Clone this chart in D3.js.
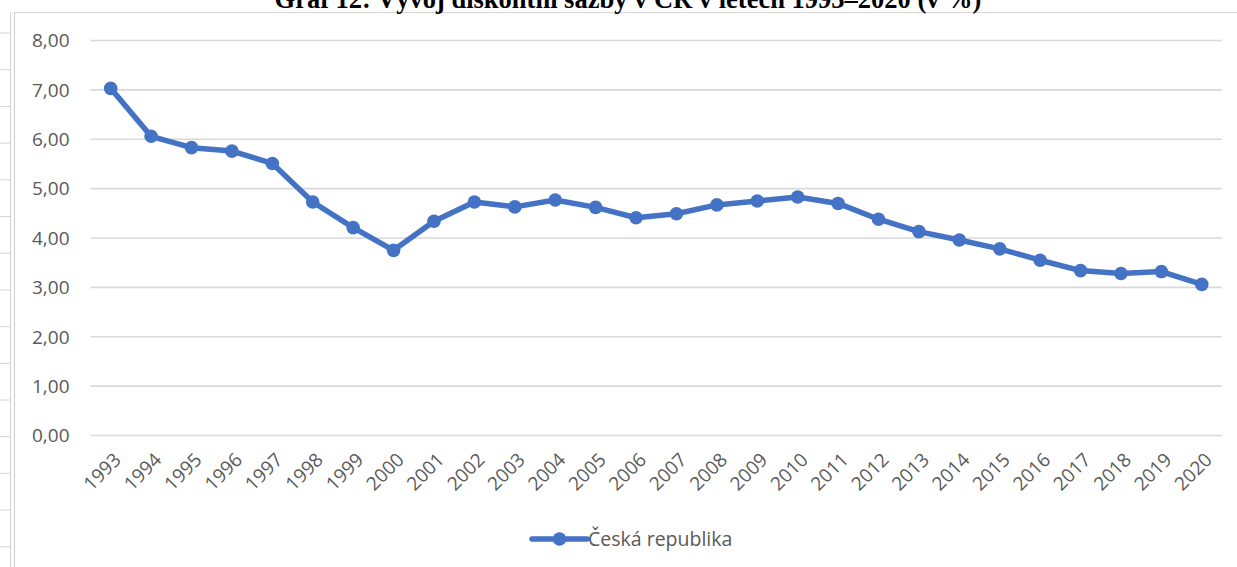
<!DOCTYPE html>
<html>
<head>
<meta charset="utf-8">
<script src="https://cdn.jsdelivr.net/npm/d3@7"></script>
<style>
  html, body { margin: 0; padding: 0; background: #fff; }
  svg { display: block; }
</style>
</head>
<body>
<svg id="chart" width="1237" height="567"></svg>
<script>
const titleText = "Graf 12: Vývoj diskontní sazby v ČR v letech 1993–2020 (v %)";
const seriesName = "Česká republika";
const years = ["1993","1994","1995","1996","1997","1998","1999","2000","2001","2002","2003","2004","2005","2006","2007","2008","2009","2010","2011","2012","2013","2014","2015","2016","2017","2018","2019","2020"];
const values = [7.02,6.05,5.82,5.75,5.50,4.72,4.20,3.74,4.33,4.72,4.62,4.76,4.61,4.40,4.48,4.66,4.74,4.82,4.69,4.37,4.12,3.95,3.77,3.54,3.33,3.27,3.31,3.05];
const yTicks = [0,1,2,3,4,5,6,7,8];

const svg = d3.select("#chart");
const W = 1237, H = 567;
const plot = {left: 90.5, right: 1222, top: 40, bottom: 435};
const blue = "#4472C4";
const grid = "#d9d9d9";
const textCol = "#595959";
const font = "'Open Sans', 'Segoe UI', sans-serif";

svg.append("rect").attr("width", W).attr("height", H).attr("fill", "#fff");

// page frame / ruler marks
const rulerMarks = d3.range(0, 15).map(i => 33 + i * 36.7);
svg.selectAll("line.ruler").data(rulerMarks).join("line")
  .attr("class","ruler")
  .attr("x1", 0).attr("x2", 10).attr("y1", d => d).attr("y2", d => d)
  .attr("stroke", "#d4d4d4").attr("stroke-width", 1);
svg.append("line").attr("x1", 10.5).attr("x2", 10.5).attr("y1", 12).attr("y2", H)
  .attr("stroke", "#d4d4d4").attr("stroke-width", 1);
svg.append("line").attr("x1", 14.5).attr("x2", 14.5).attr("y1", 12).attr("y2", H)
  .attr("stroke", "#d4d4d4").attr("stroke-width", 1.2);
svg.append("line").attr("x1", 14).attr("x2", W).attr("y1", 12.5).attr("y2", 12.5)
  .attr("stroke", "#d4d4d4").attr("stroke-width", 1.2);

// title (clipped at top, as in the reference)
svg.append("text").attr("x", 628).attr("y", 7.5)
  .attr("text-anchor", "middle")
  .attr("font-family", "'Liberation Serif', 'Times New Roman', serif")
  .attr("font-weight", "bold").attr("font-size", 26.5)
  .attr("fill", "#000").text(titleText);

const x = d3.scalePoint().domain(years).range([plot.left, plot.right]).padding(0.5);
const y = d3.scaleLinear().domain([0, 8]).range([plot.bottom, plot.top]);

// gridlines
const yAxis = d3.axisLeft(y).tickValues(yTicks)
  .tickSize(-(plot.right - plot.left))
  .tickFormat(d => d3.format(".2f")(d).replace(".", ","))
  .tickPadding(21);
const gy = svg.append("g").attr("transform", `translate(${plot.left},0)`).call(yAxis);
gy.select(".domain").remove();
gy.selectAll(".tick line").attr("stroke", grid).attr("stroke-width", 1.6);
gy.selectAll(".tick text").attr("fill", textCol).attr("font-family", font).attr("font-size", 19)
  .attr("dy", "0.36em");

// x axis labels
const xAxis = d3.axisBottom(x).tickSize(0).tickPadding(0);
const gx = svg.append("g").attr("transform", `translate(0,${plot.bottom})`).call(xAxis);
gx.select(".domain").remove();
gx.selectAll(".tick text")
  .attr("fill", textCol).attr("font-family", font).attr("font-size", 19)
  .attr("text-anchor", "end")
  .attr("dy", 0)
  .attr("transform", "translate(11,26) rotate(-45)");

// line
const line = d3.line().x((d, i) => x(years[i])).y(d => y(d));
svg.append("path").datum(values)
  .attr("d", line).attr("fill", "none")
  .attr("stroke", blue).attr("stroke-width", 5.5)
  .attr("stroke-linejoin", "round").attr("stroke-linecap", "round");
svg.selectAll("circle.pt").data(values).join("circle")
  .attr("class","pt")
  .attr("cx", (d, i) => x(years[i])).attr("cy", d => y(d))
  .attr("r", 6.8).attr("fill", blue);

// legend
const lg = svg.append("g").attr("transform", "translate(532,539)");
lg.append("line").attr("x1", 0).attr("x2", 55).attr("y1", 0).attr("y2", 0)
  .attr("stroke", blue).attr("stroke-width", 5.5).attr("stroke-linecap", "round");
lg.append("circle").attr("cx", 27.5).attr("cy", 0).attr("r", 6.8).attr("fill", blue);
lg.append("text").attr("x", 56).attr("y", 0).attr("dy", "0.36em")
  .attr("fill", textCol).attr("font-family", font).attr("font-size", 19.5)
  .text(seriesName);
</script>
</body>
</html>
